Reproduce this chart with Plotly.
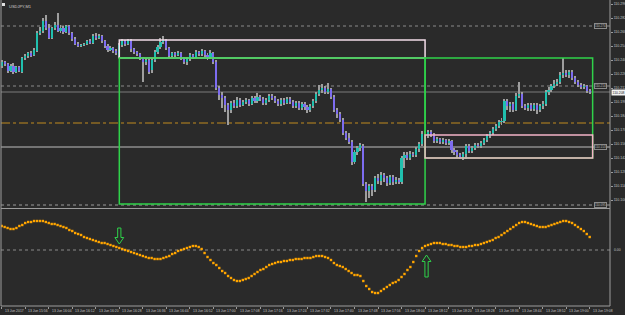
import plotly.graph_objects as go

# USDJPY, M1 -- bar index 0 = 13 Jun 2017 15:48 ; prices in points (1 pt = 0.001), price = 110 + pts/1000
BASE = 110.0
PT = 0.001

open_pts = [234,238,236,229,234,228,233,228,242,244,247,245,249,267,269,279,272,262,272,275,
            269,272,268,274,267,261,256,254,255,256,259,257,264,262,264,259,254,250,252,249,
            244,255,259,256,260,251,248,246,242,238,240,230,240,248,253,258,260,252,244,247,
            245,247,242,238,241,245,243,248,246,249,245,243,247,238,212,205,202,195,190,197,
            194,200,195,198,200,196,202,199,203,201,197,200,204,202,199,196,200,197,201,198,
            194,197,192,196,193,190,194,199,206,210,212,208,211,203,190,186,180,167,162,158,
            138,148,152,154,116,109,114,110,122,119,125,122,117,123,118,120,118,142,145,142,
            146,145,151,156,166,164,168,165,159,161,158,160,157,159,150,148,145,143,146,154,
            149,152,155,154,157,160,164,167,171,174,178,179,199,194,196,190,204,206,194,192,
            195,191,195,190,194,196,208,210,214,216,218,225,227,225,228,222,218,215,213,214,209]
high_pts = [240,239,237,236,237,234,234,243,246,248,249,252,269,273,282,285,276,273,278,287,
            275,274,275,275,268,263,258,256,257,260,261,266,267,266,265,260,256,254,253,251,
            257,261,260,261,261,252,249,247,243,242,241,242,250,255,262,264,261,253,248,248,
            249,248,243,243,247,246,250,249,251,250,247,250,248,240,214,208,204,197,199,200,
            203,202,200,202,201,204,204,207,205,203,202,206,206,204,201,202,202,203,203,200,
            199,199,198,198,195,196,201,208,215,216,214,217,212,205,192,188,182,169,167,160,
            150,154,157,156,118,116,116,124,126,128,127,124,125,125,123,122,144,148,148,149,
            148,153,158,169,169,170,170,167,163,162,162,161,161,160,152,150,147,148,156,156,
            154,157,157,159,162,166,169,173,176,180,182,201,201,198,198,207,218,208,196,197,
            197,197,197,196,199,210,213,216,220,221,228,242,230,230,230,224,220,217,216,215,211]
low_pts = [232,234,227,228,226,227,228,227,240,242,243,244,248,265,267,270,261,261,270,268,
           267,266,267,265,259,255,253,253,254,255,256,256,260,261,257,252,248,249,247,245,
           242,253,254,255,248,246,244,240,218,235,226,227,238,246,251,256,250,242,243,243,
           244,240,236,235,239,241,242,244,244,243,240,241,236,210,200,192,188,175,187,192,
           192,193,194,196,194,195,197,197,199,195,195,198,200,197,194,194,195,196,196,192,
           192,190,190,190,187,188,192,197,204,207,206,206,201,188,182,178,165,160,156,135,
           136,145,149,114,98,102,104,108,116,115,118,114,115,115,116,116,116,132,140,140,
           143,143,148,154,162,162,163,157,157,156,156,155,155,147,145,142,141,140,141,147,
           147,150,152,152,155,158,162,165,169,172,175,177,190,188,188,189,202,192,190,189,
           189,189,186,188,191,194,205,208,212,214,216,222,223,222,220,216,213,211,211,207,206]
close_pts = [238,236,229,234,228,233,229,242,244,247,244,250,267,269,279,272,262,272,275,269,
             272,268,274,267,261,256,254,255,256,259,257,264,262,264,259,254,250,252,249,247,
             255,259,256,260,251,248,246,242,238,240,228,240,248,253,258,260,252,244,247,245,
             247,242,238,241,245,243,248,246,249,245,243,247,238,212,205,202,195,190,197,194,
             200,195,198,200,196,202,199,203,201,197,200,204,202,199,196,200,197,201,198,194,
             197,192,196,193,190,194,199,206,210,212,208,211,203,190,186,180,167,162,158,138,
             148,152,155,116,109,114,110,122,119,125,122,117,123,118,120,118,142,145,142,146,
             145,151,156,166,164,168,165,159,161,158,160,157,159,150,148,145,143,146,154,149,
             152,155,154,157,160,164,167,171,174,178,179,199,194,196,190,204,206,194,192,195,
             191,195,190,194,196,208,210,214,216,218,225,227,225,228,222,218,215,213,214,209,208]

# oscillator sub-window values (one dot per bar)
osc = [0.24,0.23,0.22,0.21,0.21,0.22,0.24,0.25,0.27,0.28,0.28,0.29,0.29,0.29,0.29,0.28,0.27,0.26,0.26,0.25,
       0.24,0.23,0.22,0.20,0.19,0.17,0.16,0.15,0.13,0.12,0.11,0.10,0.09,0.08,0.07,0.07,0.06,0.05,0.04,0.03,
       0.02,0.01,0.00,-0.01,-0.02,-0.03,-0.04,-0.05,-0.06,-0.07,-0.08,-0.08,-0.09,-0.09,-0.09,-0.08,-0.07,-0.06,-0.04,-0.03,
       -0.01,0.00,0.01,0.02,0.03,0.04,0.04,0.03,0.01,-0.03,-0.07,-0.10,-0.13,-0.15,-0.18,-0.21,-0.23,-0.26,-0.28,-0.30,
       -0.31,-0.31,-0.30,-0.29,-0.28,-0.26,-0.24,-0.22,-0.20,-0.19,-0.17,-0.15,-0.14,-0.13,-0.12,-0.12,-0.11,-0.11,-0.10,-0.10,
       -0.09,-0.09,-0.09,-0.08,-0.08,-0.08,-0.07,-0.06,-0.06,-0.06,-0.07,-0.08,-0.10,-0.13,-0.15,-0.16,-0.17,-0.19,-0.21,-0.23,
       -0.25,-0.25,-0.26,-0.31,-0.36,-0.39,-0.42,-0.43,-0.43,-0.41,-0.39,-0.37,-0.35,-0.33,-0.32,-0.30,-0.27,-0.24,-0.20,-0.17,
       -0.12,-0.06,-0.01,0.02,0.04,0.05,0.06,0.07,0.07,0.07,0.06,0.06,0.05,0.05,0.04,0.04,0.03,0.03,0.03,0.04,
       0.04,0.05,0.05,0.06,0.07,0.08,0.09,0.10,0.12,0.13,0.15,0.17,0.19,0.21,0.23,0.25,0.27,0.28,0.28,0.27,
       0.26,0.25,0.24,0.23,0.23,0.23,0.24,0.25,0.26,0.27,0.28,0.29,0.29,0.28,0.27,0.25,0.23,0.21,0.19,0.16,0.13]

time_ticks = list(range(0, 201, 8))
time_labels = ["13 Jun 2017", "13 Jun 15:56", "13 Jun 16:04", "13 Jun 16:12", "13 Jun 16:20", "13 Jun 16:28",
               "13 Jun 16:36", "13 Jun 16:44", "13 Jun 16:52", "13 Jun 17:00", "13 Jun 17:08", "13 Jun 17:16",
               "13 Jun 17:24", "13 Jun 17:32", "13 Jun 17:40", "13 Jun 17:48", "13 Jun 17:56", "13 Jun 18:04",
               "13 Jun 18:12", "13 Jun 18:20", "13 Jun 18:28", "13 Jun 18:36", "13 Jun 18:44", "13 Jun 18:52",
               "13 Jun 19:00", "13 Jun 19:08"]
price_ticks = [110.296, 110.282, 110.268, 110.254, 110.240, 110.226, 110.212, 110.198, 110.184,
               110.170, 110.156, 110.142, 110.128, 110.114, 110.100]

# horizontal line objects (price, colour, dash, labelled)
hline_price = [110.274, 110.214, 110.095, 110.153, 110.177]
hline_color = ["#8a8a8a", "#8a8a8a", "#9a9a9a", "#bdbdbd", "#c08a1e"]
hline_dash = ["dot", "dot", "dot", "solid", "dashdot"]
hline_label = [True, True, True, True, False]

# rectangles: (bar_from, bar_to, price_top, price_bottom, colour)
rect_from = [40, 40, 144, 144]
rect_to = [144, 144, 201, 201]
rect_top = [110.260, 110.242, 110.242, 110.165]
rect_bottom = [110.242, 110.096, 110.142, 110.142]
rect_color = ["#f3dde9", "#2fd24a", "#2fd24a", "#f4b4c8"]

# arrows in oscillator window: (bar, tail value, tip value)
arrow_bar = [40, 144.5]
arrow_tail = [0.22, -0.27]
arrow_tip = [0.06, -0.05]

W, H = 625, 315
BG = "#2a2a2a"
BULL = "#20c0ae"
BEAR = "#7d6cf0"

o = [BASE + v * PT for v in open_pts]
h = [BASE + v * PT for v in high_pts]
l = [BASE + v * PT for v in low_pts]
c = [BASE + v * PT for v in close_pts]
n = len(c)
idx = list(range(n))
last_price = c[-1]

fig = go.Figure()

# wicks (thin bars, drawn before bodies)
fig.add_trace(go.Bar(x=idx, base=l, y=[h[i] - l[i] for i in idx], width=0.34,
                     marker=dict(color="#9e9e9e", line=dict(width=0)),
                     hoverinfo="skip", showlegend=False, xaxis="x", yaxis="y"))
# bodies
fig.add_trace(go.Bar(x=idx, base=[min(o[i], c[i]) for i in idx],
                     y=[abs(c[i] - o[i]) for i in idx], width=0.72,
                     marker=dict(color=[BULL if c[i] >= o[i] else BEAR for i in idx], line=dict(width=0)),
                     showlegend=False, xaxis="x", yaxis="y"))
# oscillator dots
fig.add_trace(go.Scatter(x=idx, y=osc, mode="markers",
                         marker=dict(symbol="square", size=2.4, color="#ffa500", line=dict(width=0)),
                         showlegend=False, xaxis="x2", yaxis="y2"))

shapes = []
x_l, x_r = 1 / W, 610 / W
for p, col, dash in zip(hline_price, hline_color, hline_dash):
    shapes.append(dict(type="line", xref="paper", yref="y", x0=x_l, x1=x_r, y0=p, y1=p,
                       line=dict(color=col, width=1, dash=dash), layer="below"))
# bid line
shapes.append(dict(type="line", xref="paper", yref="y", x0=x_l, x1=x_r, y0=last_price, y1=last_price,
                   line=dict(color="#7a7a7a", width=1), layer="below"))
# oscillator level
shapes.append(dict(type="line", xref="paper", yref="y2", x0=x_l, x1=x_r, y0=0, y1=0,
                   line=dict(color="#8a8a8a", width=1, dash="dot"), layer="below"))
for a, b, t, btm, col in zip(rect_from, rect_to, rect_top, rect_bottom, rect_color):
    shapes.append(dict(type="rect", xref="x", yref="y", x0=a, x1=b, y0=btm, y1=t,
                       line=dict(color=col, width=1.5), fillcolor="rgba(0,0,0,0)"))


def arrow_path(xc, y_tail, y_tip, hs=0.55, hh=1.5, hl=0.065):
    d = 1 if y_tip > y_tail else -1
    yh = y_tip - d * hl
    pts = [(xc - hs, y_tail), (xc + hs, y_tail), (xc + hs, yh), (xc + hh, yh),
           (xc, y_tip), (xc - hh, yh), (xc - hs, yh)]
    return "M " + " L ".join(f"{x},{y}" for x, y in pts) + " Z"


for xb, yt, yp in zip(arrow_bar, arrow_tail, arrow_tip):
    shapes.append(dict(type="path", xref="x2", yref="y2", path=arrow_path(xb, yt, yp),
                       line=dict(color="#2fd24a", width=1), fillcolor="rgba(0,0,0,0)"))

FRAME = "#9c9c9c"
py = lambda px: 1 - px / H
shapes += [
    dict(type="line", xref="paper", yref="paper", x0=x_l, x1=x_l, y0=py(306), y1=1, line=dict(color=FRAME, width=1)),
    dict(type="line", xref="paper", yref="paper", x0=x_r, x1=x_r, y0=py(306), y1=1, line=dict(color=FRAME, width=1)),
    dict(type="line", xref="paper", yref="paper", x0=x_l, x1=x_r, y0=py(208.5), y1=py(208.5), line=dict(color=FRAME, width=1)),
    dict(type="line", xref="paper", yref="paper", x0=x_l, x1=x_r, y0=py(306), y1=py(306), line=dict(color=FRAME, width=1)),
    dict(type="rect", xref="paper", yref="paper", x0=2 / W, x1=5 / W, y0=py(6), y1=py(3),
         line=dict(width=0), fillcolor="#e0e0e0"),
]

FONT = "Liberation Sans"
ann = []
ann.append(dict(text="USDJPY,M1", x=7 / W, y=py(2), xref="paper", yref="paper", xanchor="left",
                yanchor="top", showarrow=False, font=dict(size=4, color="#cfcfcf", family=FONT)))
for t, lab in zip(time_ticks, time_labels):
    ann.append(dict(text=lab, x=t, xref="x2", y=py(307), yref="paper", xanchor="left", yanchor="top",
                    xshift=1, showarrow=False, font=dict(size=3.4, color="#c4c4c4", family=FONT)))
for p, lab in zip(hline_price, hline_label):
    if lab:
        ann.append(dict(text=f"{p:.3f}", x=594 / W, xref="paper", y=p, yref="y", xanchor="left",
                        yanchor="middle", showarrow=False, bgcolor=BG, bordercolor="#8a8a8a",
                        borderwidth=1, borderpad=0, font=dict(size=3, color="#bdbdbd", family=FONT)))
ann.append(dict(text=f"{last_price:.3f}", x=611 / W, xref="paper", y=last_price, yref="y",
                xanchor="left", yanchor="middle", showarrow=False, bgcolor="#f2f2f2",
                borderpad=0.5, font=dict(size=3.4, color="#222222", family=FONT)))
ann.append(dict(text="0.00", x=612 / W, xref="paper", y=0, yref="y2", xanchor="left",
                yanchor="middle", showarrow=False, font=dict(size=3.4, color="#c4c4c4", family=FONT)))

xr = [(1 - 1.7) / 2.94, (610 - 1.7) / 2.94]
fig.update_layout(
    width=W, height=H, margin=dict(l=0, r=0, t=0, b=0, pad=0),
    paper_bgcolor=BG, plot_bgcolor=BG, barmode="overlay", bargap=0,
    shapes=shapes, annotations=ann, showlegend=False,
    xaxis=dict(domain=[x_l, x_r], range=xr, showgrid=False, zeroline=False, showticklabels=False,
               showline=False, anchor="y"),
    yaxis=dict(domain=[py(208), py(1)], range=[110.092, 110.299], side="right", anchor="x",
               tickvals=price_ticks, ticktext=[f"{v:.3f}" for v in price_ticks], ticks="outside",
               ticklen=2, tickcolor=FRAME, tickfont=dict(size=3.5, color="#c4c4c4", family=FONT),
               showgrid=False, zeroline=False, showline=False, automargin=False),
    xaxis2=dict(domain=[x_l, x_r], range=xr, showgrid=False, zeroline=False, showticklabels=False,
                anchor="y2", tickvals=time_ticks, ticks="outside", ticklen=2, tickcolor=FRAME,
                showline=False),
    yaxis2=dict(domain=[py(306), py(210)], range=[-0.56, 0.40], side="right", anchor="x2",
                showticklabels=False, showgrid=False, zeroline=False, showline=False),
)

fig.write_html("out.html")
